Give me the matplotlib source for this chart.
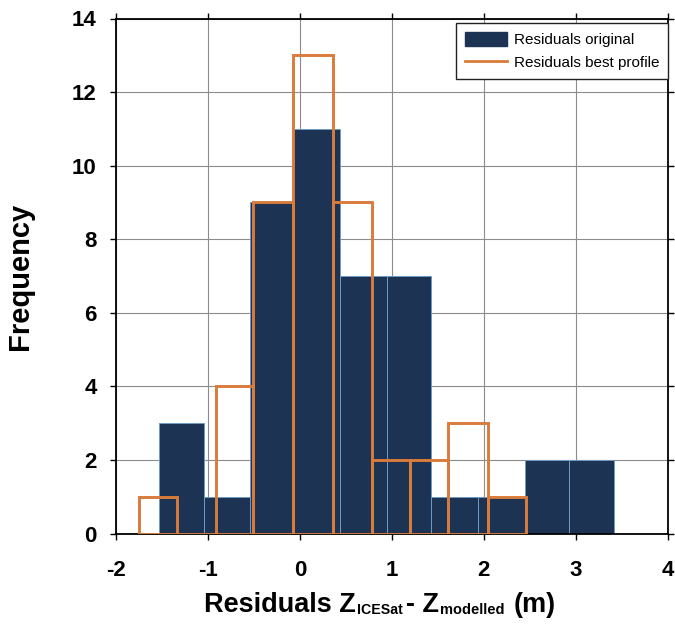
import numpy as np
import matplotlib.pyplot as plt
from matplotlib.patches import Patch
from matplotlib.lines import Line2D
from matplotlib.transforms import IdentityTransform

plt.rcParams['font.family'] = ['Liberation Sans', 'DejaVu Sans']
plt.rcParams['axes.unicode_minus'] = False

# histogram bin edges and counts of the residuals (m)
edges_orig = [-1.527, -1.045, -0.537, -0.075, 0.437, 0.945,
              1.426, 1.938, 2.446, 2.928, 3.417]
counts_orig = [3, 1, 9, 11, 7, 7, 1, 1, 2, 2]

edges_best = [-1.750, -1.334, -0.914, -0.506, -0.075, 0.356,
              0.780, 1.196, 1.607, 2.043, 2.458]
counts_best = [1, 0, 4, 9, 13, 9, 2, 2, 3, 1]

legend_labels = ['Residuals original', 'Residuals best profile']

navy = '#1d3354'
orange = '#d97b3a'

W, H = 675, 631
fig = plt.figure(figsize=(W / 100, H / 100), dpi=100)
ax = fig.add_axes([116 / W, 97.5 / H, 551.5 / W, 515 / H])

e = np.array(edges_orig)
ax.bar(e[:-1], counts_orig, width=np.diff(e), align='edge',
       color=navy, edgecolor='#6f9cc4', linewidth=0.7, zorder=2)

e = np.array(edges_best)
ax.bar(e[:-1], counts_best, width=np.diff(e), align='edge',
       fill=False, edgecolor=orange, linewidth=2.1, zorder=3)

ax.set_xlim(-2, 4)
ax.set_ylim(0, 14)
ax.set_xticks(range(-2, 5))
ax.set_yticks(range(0, 15, 2))
ax.grid(True, color='#8c8c8c', linewidth=0.8)
ax.set_axisbelow(True)

ax.tick_params(axis='both', which='both', direction='out', length=4,
               width=1, top=True, right=True, labelsize=16)
ax.tick_params(axis='x', pad=15)
ax.tick_params(axis='y', pad=10)
for lab in ax.get_xticklabels() + ax.get_yticklabels():
    lab.set_fontweight('bold')
for sp in ax.spines.values():
    sp.set_linewidth(1.3)

ax.set_ylabel('Frequency', fontsize=21, fontweight='bold')
ax.yaxis.set_label_coords(-0.148, 0.5)

# x label set piece by piece so the subscripts stay small:
# (text, size, baseline shift px, gap before px)
pieces = [('Residuals Z', 19.5, 0, 0),
          ('ICESat', 10.2, -3, 1),
          ('- Z', 19.5, 0, 3),
          ('modelled', 10.5, -3, 1),
          ('(m)', 19.5, 0, 9)]
renderer = fig.canvas.get_renderer()
base = H - 611.5
texts, widths = [], []
for txt, size, dy, gap in pieces:
    t = fig.text(0, base + dy, txt, fontsize=size, fontweight='bold',
                 ha='left', va='baseline', transform=IdentityTransform())
    texts.append(t)
    widths.append(t.get_window_extent(renderer).width)
total = sum(widths) + sum(p[3] for p in pieces)
x = 380 - total / 2
for t, w, p in zip(texts, widths, pieces):
    x += p[3]
    t.set_x(x)
    x += w

handles = [Patch(facecolor=navy, edgecolor=navy),
           Line2D([], [], color=orange, linewidth=2)]
leg = ax.legend(handles, legend_labels, loc='upper right',
                bbox_to_anchor=(1.0, 0.991), borderaxespad=0,
                fontsize=11, fancybox=False, edgecolor='#222222',
                framealpha=1, handlelength=2.8, handleheight=1.1,
                handletextpad=0.4, labelspacing=0.5, borderpad=0.55)
leg.get_frame().set_linewidth(1.0)

fig.savefig('out.png', dpi=100)
